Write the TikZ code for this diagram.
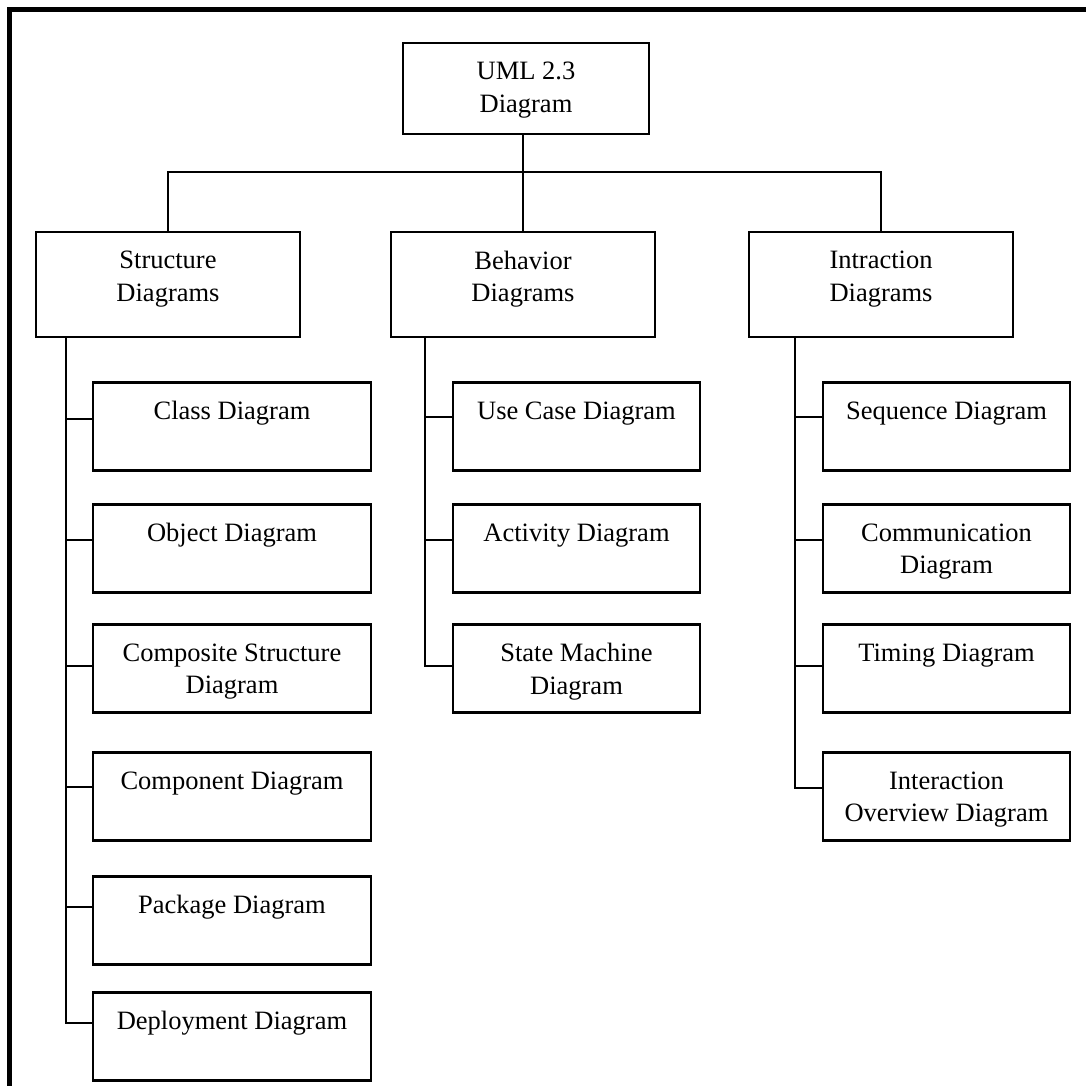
\documentclass[tikz,border=0pt]{standalone}
\usepackage{fontspec}
\setmainfont{Liberation Serif}
\usetikzlibrary{positioning}

\begin{document}
\begin{tikzpicture}[x=1pt, y=-1pt, line width=2.1pt,
    box/.style={draw, inner sep=0pt, minimum height=88pt},
    head/.style={draw, inner sep=0pt, minimum width=264pt, minimum height=105pt},
    txt/.style={anchor=north, yshift=-19pt, inner sep=0pt, align=center, font=\fontsize{26.5}{32.5}\selectfont},
    sbox/.style={box, minimum width=278pt},
    kbox/.style={box, minimum width=247pt}]
  \useasboundingbox (0,0) rectangle (1086,1086);
  \clip (0,0) rectangle (1086,1086);
  \draw[line width=4.5pt] (9.5,1100) |- (1100,9.5);

  \node[draw, inner sep=0pt, minimum width=246pt, minimum height=91pt, label={[txt]north:{UML 2.3\\Diagram}}] (uml) at (526,88.5) {};

  \node[head, label={[txt]north:{Structure\\Diagrams}}] (str) at (168,284.5) {};
  \node[head, label={[txt]north:{Behavior\\Diagrams}}] (beh) at (523,284.5) {};
  \node[head, label={[txt]north:{Intraction\\Diagrams}}] (int) at (881,284.5) {};

  \node[sbox, label={[txt]north:{Class Diagram}}] (cls) at (232,426.5) {};
  \node[sbox, label={[txt]north:{Object Diagram}}] (obj) at (232,548.5) {};
  \node[sbox, label={[txt]north:{Composite Structure\\Diagram}}] (csd) at (232,668.5) {};
  \node[sbox, label={[txt]north:{Component Diagram}}] (cmp) at (232,796.5) {};
  \node[sbox, label={[txt]north:{Package Diagram}}] (pkg) at (232,920.5) {};
  \node[sbox, label={[txt]north:{Deployment Diagram}}] (dpl) at (232,1036.5) {};

  \node[kbox, label={[txt]north:{Use Case Diagram}}] (ucd) at (576.5,426.5) {};
  \node[kbox, label={[txt]north:{Activity Diagram}}] (act) at (576.5,548.5) {};
  \node[kbox, label={[txt]north:{State Machine\\Diagram}}] (stm) at (576.5,668.5) {};

  \node[kbox, label={[txt]north:{Sequence Diagram}}] (seq) at (946.5,426.5) {};
  \node[kbox, label={[txt]north:{Communication\\Diagram}}] (com) at (946.5,548.5) {};
  \node[kbox, label={[txt]north:{Timing Diagram}}] (tim) at (946.5,668.5) {};
  \node[kbox, label={[txt]north:{Interaction\\Overview Diagram}}] (iod) at (946.5,796.5) {};

  % top level
  \draw (beh.north |- uml.south) -- (beh.north);
  \draw (str.north) -- ++(0,-59) -| (int.north);

  % spines
  \coordinate (sstr) at (66,337);
  \coordinate (sbeh) at (425,337);
  \coordinate (sint) at (795,337);
  \foreach \b/\d in {cls/7.5, obj/8.5, csd/2.5, cmp/9.5, pkg/13.5, dpl/13.5}
    \draw (sstr) |- ([yshift=\d pt]\b.west);
  \foreach \b/\d in {ucd/9.5, act/8.5, stm/2.5}
    \draw (sbeh) |- ([yshift=\d pt]\b.west);
  \foreach \b/\d in {seq/9.5, com/8.5, tim/2.5, iod/8.5}
    \draw (sint) |- ([yshift=\d pt]\b.west);
\end{tikzpicture}
\end{document}
